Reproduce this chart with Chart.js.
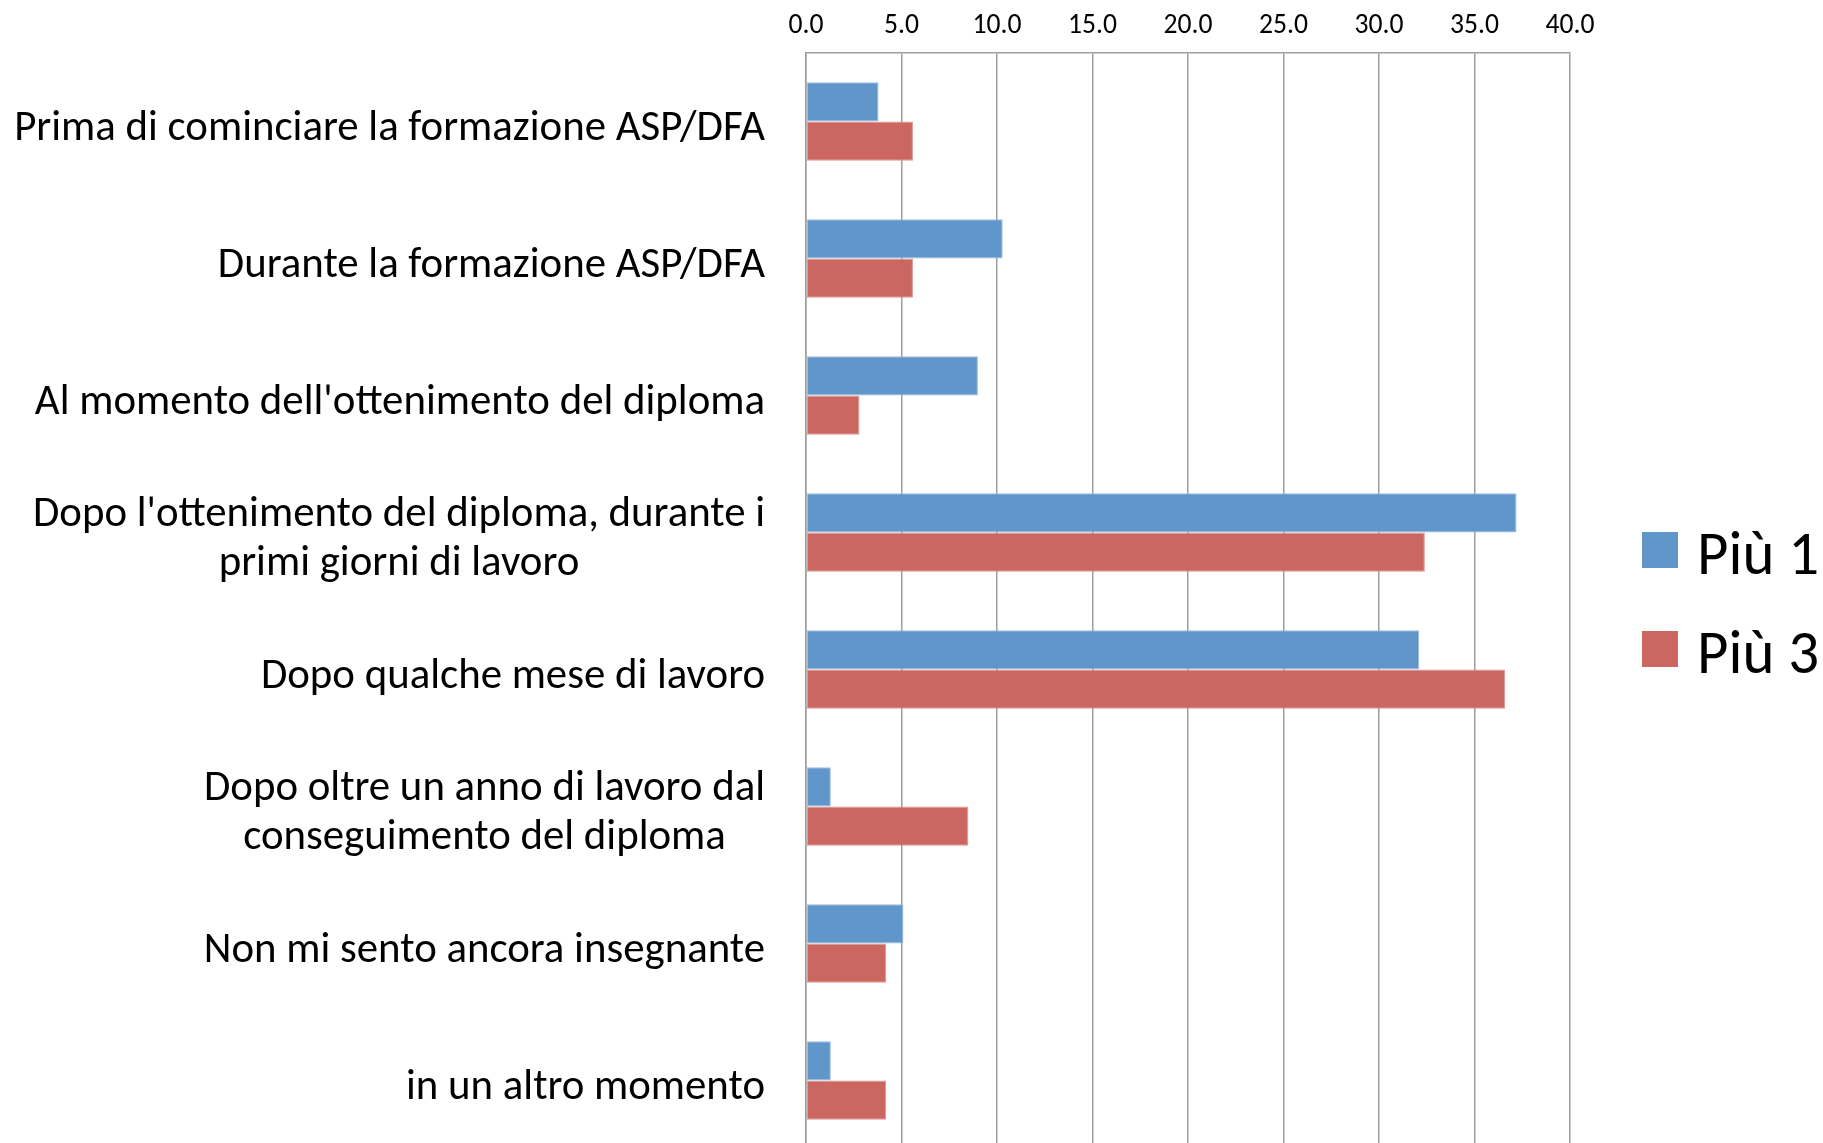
<!DOCTYPE html>
<html>
<head>
<meta charset="utf-8">
<script src="https://cdn.jsdelivr.net/npm/chart.js@4.4.1/dist/chart.umd.min.js"></script>
<style>
html,body{margin:0;padding:0;background:#fff;overflow:hidden;width:1823px;height:1143px;}
#wrap{position:relative;width:1823px;height:1149px;}
canvas{display:block;}
</style>
</head>
<body>
<div id="wrap"><canvas id="c" width="1823" height="1149"></canvas></div>
<script>
const categories = [
  ["Prima di cominciare la formazione ASP/DFA"],
  ["Durante la formazione ASP/DFA"],
  ["Al momento dell'ottenimento del diploma"],
  ["Dopo l'ottenimento del diploma, durante i", "primi giorni di lavoro"],
  ["Dopo qualche mese di lavoro"],
  ["Dopo oltre un anno di lavoro dal", "conseguimento del diploma"],
  ["Non mi sento ancora insegnante"],
  ["in un altro momento"]
];
const seriesNames = ["Più 1", "Più 3"];
const piu1 = [3.8, 10.3, 9.0, 37.2, 32.1, 1.3, 5.1, 1.3];
const piu3 = [5.6, 5.6, 2.8, 32.4, 36.6, 8.5, 4.2, 4.2];
const xMin = 0, xMax = 40, xStep = 5;

const FAMILY = "Carlito, 'Liberation Sans Narrow', 'Open Sans', sans-serif";
const mctx = document.createElement('canvas').getContext('2d');
function fitSize(text, target, maxSize) {
  mctx.font = "100px " + FAMILY;
  const w = mctx.measureText(text).width;
  return Math.min(maxSize, 100 * target / w);
}
const labelSize = fitSize("Prima di cominciare la formazione ASP/DFA", 751, 46);
const tickSize = fitSize("40.0", 49, 28);
const legendSize = fitSize("Più 1", 122, 62);
const GRID = '#9E9E9E';
const PLOT_LEFT = 806, PLOT_TOP = 53;

const catLabels = {
  id: 'catLabels',
  afterDraw(chart) {
    const {ctx, chartArea, scales} = chart;
    const y = scales.y;
    ctx.save();
    ctx.font = labelSize + "px " + FAMILY;
    ctx.fillStyle = '#000';
    ctx.textBaseline = 'alphabetic';
    ctx.textAlign = 'center';
    const capH = ctx.measureText('H').actualBoundingBoxAscent;
    const lh = labelSize * 1.15;
    const right = chartArea.left - 41;
    categories.forEach((lines, i) => {
      const cy = y.getPixelForValue(i) + 4;
      const bw = Math.max(...lines.map(l => ctx.measureText(l).width));
      const cx = right - bw / 2;
      const first = cy + capH / 2 - (lines.length - 1) * lh / 2;
      lines.forEach((l, k) => ctx.fillText(l, cx, first + k * lh));
    });
    // legend
    const colors = ['#6096C9', '#CC6661'];
    const boxTop = [532, 631];
    ctx.font = legendSize + "px " + FAMILY;
    ctx.textAlign = 'left';
    const lcap = ctx.measureText('P').actualBoundingBoxAscent;
    seriesNames.forEach((n, k) => {
      ctx.fillStyle = colors[k];
      ctx.fillRect(1642, boxTop[k], 36, 36);
      ctx.fillStyle = '#000';
      ctx.fillText(n, 1697, boxTop[k] + 18 + lcap / 2 + 4);
    });
    ctx.restore();
  }
};

new Chart(document.getElementById('c'), {
  type: 'bar',
  data: {
    labels: categories,
    datasets: [
      { label: seriesNames[0], data: piu1, backgroundColor: '#6096C9', borderColor: '#9ABCE2', borderWidth: 1, borderSkipped: false },
      { label: seriesNames[1], data: piu3, backgroundColor: '#CC6661', borderColor: '#DC9792', borderWidth: 1, borderSkipped: false }
    ]
  },
  options: {
    indexAxis: 'y',
    responsive: false,
    animation: false,
    maintainAspectRatio: false,
    layout: { padding: { left: 0, right: 253, top: 0, bottom: 0 } },
    datasets: { bar: { categoryPercentage: 2 / 3.5, barPercentage: 1.0 } },
    plugins: { legend: { display: false }, tooltip: { enabled: false } },
    scales: {
      x: {
        position: 'top',
        min: xMin, max: xMax,
        afterFit(s) { s.height = PLOT_TOP; },
        ticks: {
          stepSize: xStep,
          color: '#000',
          font: { family: FAMILY, size: tickSize },
          padding: Math.max(0, PLOT_TOP - 26 - 0.6 * tickSize),
          callback: v => Number(v).toFixed(1)
        },
        grid: { color: GRID, lineWidth: 1.5, drawTicks: false },
        border: { display: true, color: GRID, width: 1.5 }
      },
      y: {
        afterFit(s) { s.width = PLOT_LEFT; },
        ticks: { display: false },
        grid: { display: false, drawTicks: false },
        border: { display: true, color: GRID, width: 1.5 }
      }
    }
  },
  plugins: [catLabels]
});
</script>
</body>
</html>
